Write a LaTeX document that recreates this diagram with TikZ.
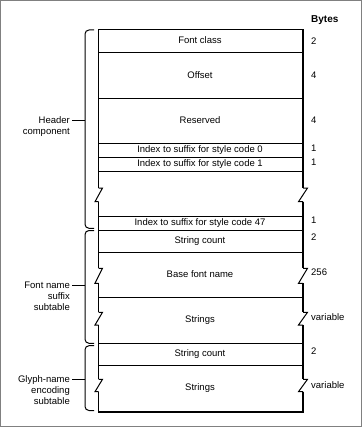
\documentclass[tikz,border=0pt]{standalone}
\usepackage{fontspec}
\setmainfont{Liberation Sans}
\begin{document}
\begin{tikzpicture}[x=1pt,y=-1pt,
    ln/.style={line width=1pt},
    heavy/.style={line width=2.5pt},
    txt/.style={font=\fontsize{9.5}{11}\selectfont, inner sep=0pt, text height=7pt, text depth=2pt},
    bytes/.style={txt, anchor=west},
    side/.style={font=\fontsize{9.5}{11}\selectfont, inner sep=0pt, anchor=east, align=right},
    brace/.style={ln, rounded corners=4pt}]

\useasboundingbox (0,0) rectangle (363,428);
\draw[black!50, line width=1pt] (0.5,0.5) rectangle (361.5,426.5);

% ===== Box sides (broken at the zigzags) =====
\foreach \a/\b in {29.5/188, 201.7/268.3, 283.3/312.3, 325/379.3, 391.7/411.5} {
    \draw[ln] (98.5,\a) -- (98.5,\b);
    \draw[heavy] (303,\a) -- (303,\b);
}

% ===== Zigzag breaks =====
\foreach \a/\b in {188/201.7, 268.3/283.3, 312.3/325, 379.3/391.7} {
    \draw[ln] (98.5,\a) -- (102.5,\a) -- (95,\b) -- (98.5,\b);
    \draw[ln] (303,\a) -- (307.5,\a) -- (298.5,\b) -- (303,\b);
}

% ===== Top, bottom and row lines =====
\draw[ln] (98.5,29.5) -- (303,29.5);
\draw[line width=2pt] (98,411.5) -- (304.25,411.5);
\foreach \y in {53,98,143.5,157.3,171.3,216,230,252.3,297.3,343.3,365.3} {
    \draw[ln] (98.5,\y) -- (303,\y);
}

% ===== Field names =====
\node[txt] (fcls)  at (200,41.3)  {Font class};
\node[txt] (ofs)   at (200,75.5)  {Offset};
\node[txt] (rsv)   at (200,120.7) {Reserved};
\node[txt] (idx0)  at (200,150.4) {Index to suffix for style code 0};
\node[txt] (idx1)  at (200,164.3) {Index to suffix for style code 1};
\node[txt] (idx47) at (200,223)   {Index to suffix for style code 47};
\node[txt] (scnt)  at (200,241.2) {String count};
\node[txt] (bfn)   at (200,274.8) {Base font name};
\node[txt] (str)   at (200,320.3) {Strings};
\node[txt] (gcnt)  at (200,354.3) {String count};
\node[txt] (gstr)  at (200,388)   {Strings};

% ===== Byte counts =====
\node[bytes, font=\fontsize{10}{12}\selectfont\bfseries] (bhead) at (311,20) {Bytes};
\node[bytes] (b1)  at (311,42)    {2};
\node[bytes] (b2)  at (311,76)    {4};
\node[bytes] (b3)  at (311,121)   {4};
\node[bytes] (b4)  at (311,148.5) {1};
\node[bytes] (b5)  at (311,162.5) {1};
\node[bytes] (b6)  at (311,221)   {1};
\node[bytes] (b7)  at (311,238)   {2};
\node[bytes] (b8)  at (311,273)   {256};
\node[bytes] (b9)  at (311,318)   {variable};
\node[bytes] (b10) at (311,352)   {2};
\node[bytes] (b11) at (311,386)   {variable};

% ===== Brackets =====
\draw[brace] (94,30) -- (85,30) -- (85,228.3) -- (94,228.3);
\draw[brace] (94,230.5) -- (85,230.5) -- (85,343.3) -- (94,343.3);
\draw[brace] (94,345.7) -- (85,345.7) -- (85,410.5) -- (94,410.5);

% ===== Component labels =====
\coordinate (hdrA) at (72,120.7);
\coordinate (hdrB) at (85,120.7);
\draw[ln] (hdrA) -- (hdrB);
\node[side] (hdr) at (70,126.4) {Header\\component};

\coordinate (sfxA) at (72,285);
\coordinate (sfxB) at (85,285);
\draw[ln] (sfxA) -- (sfxB);
\node[side] (sfx) at (70,296) {Font name\\suffix\\subtable};

\coordinate (glyA) at (72,379.3);
\coordinate (glyB) at (85,379.3);
\draw[ln] (glyA) -- (glyB);
\node[side] (gly) at (70,390) {Glyph-name\\encoding\\subtable};

\end{tikzpicture}
\end{document}
